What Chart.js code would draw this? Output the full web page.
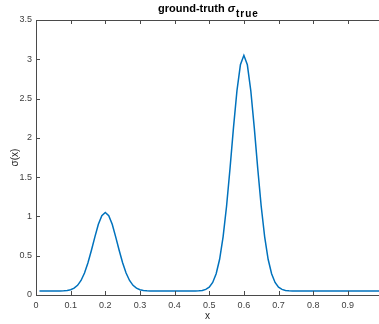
<!DOCTYPE html>
<html>
<head>
<meta charset="utf-8">
<script src="https://cdn.jsdelivr.net/npm/chart.js@4"></script>
<style>
  body { margin: 0; background: #fff; }
  #wrap { position: relative; width: 379px; height: 324px; }
</style>
</head>
<body>
<div id="wrap"><canvas id="chart"></canvas></div>
<script>
// x positions of the samples
const xValues = [0.01,0.02,0.03,0.04,0.05,0.06,0.07,0.08,0.09,0.10,
  0.11,0.12,0.13,0.14,0.15,0.16,0.17,0.18,0.19,0.20,
  0.21,0.22,0.23,0.24,0.25,0.26,0.27,0.28,0.29,0.30,
  0.31,0.32,0.33,0.34,0.35,0.36,0.37,0.38,0.39,0.40,
  0.41,0.42,0.43,0.44,0.45,0.46,0.47,0.48,0.49,0.50,
  0.51,0.52,0.53,0.54,0.55,0.56,0.57,0.58,0.59,0.60,
  0.61,0.62,0.63,0.64,0.65,0.66,0.67,0.68,0.69,0.70,
  0.71,0.72,0.73,0.74,0.75,0.76,0.77,0.78,0.79,0.80,
  0.81,0.82,0.83,0.84,0.85,0.86,0.87,0.88,0.89,0.90,
  0.91,0.92,0.93,0.94,0.95,0.96,0.97,0.98,0.99];

// sigma_true
const sigmaTrue = [0.05,0.05,0.05,0.05,0.05,0.05,0.051,0.053,0.057,0.067,
  0.087,0.123,0.185,0.28,0.41,0.57,0.74,0.90,1.01,1.05,
  1.01,0.90,0.74,0.57,0.41,0.28,0.185,0.123,0.087,0.067,
  0.057,0.053,0.051,0.05,0.05,0.05,0.05,0.05,0.05,0.05,
  0.05,0.05,0.05,0.05,0.05,0.051,0.053,0.058,0.072,0.10,
  0.16,0.27,0.455,0.74,1.13,1.61,2.13,2.60,2.93,3.05,
  2.93,2.60,2.13,1.61,1.13,0.74,0.455,0.27,0.16,0.10,
  0.072,0.058,0.053,0.051,0.05,0.05,0.05,0.05,0.05,0.05,
  0.05,0.05,0.05,0.05,0.05,0.05,0.05,0.05,0.05,0.05,
  0.05,0.05,0.05,0.05,0.05,0.05,0.05,0.05,0.05];

const xTicks = [0, 0.1, 0.2, 0.3, 0.4, 0.5, 0.6, 0.7, 0.8, 0.9];
const yTicks = [0, 0.5, 1, 1.5, 2, 2.5, 3, 3.5];

const axisColor = '#4a4a4a';
const fontFam = '"Liberation Sans", Arial, sans-serif';

// matlab-style box: inward ticks, top border, titles with subscript
const matlabBox = {
  id: 'matlabBox',
  afterDraw(chart) {
    const ctx = chart.ctx;
    const a = chart.chartArea;
    const xs = chart.scales.x, ys = chart.scales.y;
    ctx.save();
    ctx.strokeStyle = axisColor;
    ctx.lineWidth = 1;
    ctx.beginPath();
    ctx.moveTo(a.left, a.top + 0.5);
    ctx.lineTo(a.right, a.top + 0.5);
    xTicks.forEach(v => {
      const px = Math.round(xs.getPixelForValue(v)) + 0.5;
      ctx.moveTo(px, a.bottom); ctx.lineTo(px, a.bottom - 4);
      ctx.moveTo(px, a.top); ctx.lineTo(px, a.top + 4);
    });
    yTicks.forEach(v => {
      const py = Math.round(ys.getPixelForValue(v)) + 0.5;
      ctx.moveTo(a.left, py); ctx.lineTo(a.left + 4, py);
    });
    ctx.stroke();

    // title
    ctx.fillStyle = '#000';
    ctx.textBaseline = 'alphabetic';
    const t1 = 'ground-truth ';
    ctx.font = 'bold 11px ' + fontFam;
    const w1 = ctx.measureText(t1).width;
    ctx.font = 'italic bold 11px ' + fontFam;
    const w2 = ctx.measureText('σ').width + 1;
    ctx.font = 'bold 10px ' + fontFam;
    ctx.letterSpacing = '1px';
    const w3 = ctx.measureText('true').width;
    ctx.letterSpacing = '0px';
    let tx = 208.5 - (w1 + w2 + w3) / 2;
    ctx.textAlign = 'left';
    ctx.font = 'bold 11px ' + fontFam;
    ctx.fillText(t1, tx, 12);
    tx += w1;
    ctx.font = 'italic bold 11px ' + fontFam;
    ctx.fillText('σ', tx, 12);
    tx += w2;
    ctx.font = 'bold 10px ' + fontFam;
    ctx.letterSpacing = '1px';
    ctx.fillText('true', tx, 17);
    ctx.letterSpacing = '0px';

    // axis labels
    ctx.fillStyle = '#262626';
    ctx.font = '10px ' + fontFam;
    ctx.textAlign = 'center';
    ctx.textBaseline = 'middle';
    ctx.fillText('x', (a.left + a.right) / 2, 316);
    ctx.save();
    ctx.translate(15, (a.top + a.bottom) / 2);
    ctx.rotate(-Math.PI / 2);
    ctx.fillText('σ(x)', 0, 0);
    ctx.restore();
    ctx.restore();
  }
};

new Chart(document.getElementById('chart'), {
  type: 'line',
  data: {
    datasets: [{
      data: xValues.map((x, i) => ({ x: x, y: sigmaTrue[i] })),
      borderColor: '#0072BD',
      borderWidth: 1.5,
      pointRadius: 0,
      tension: 0,
      fill: false
    }]
  },
  options: {
    responsive: true,
    maintainAspectRatio: false,
    animation: false,
    layout: { padding: { top: 20, left: 0, right: 0, bottom: 0 } },
    plugins: { legend: { display: false }, tooltip: { enabled: false } },
    scales: {
      x: {
        type: 'linear',
        min: 0,
        max: 0.99,
        afterFit: s => { s.height = 29; },
        grid: { display: false, drawTicks: false },
        border: { display: true, color: axisColor, width: 1 },
        ticks: {
          stepSize: 0.1,
          includeBounds: false,
          padding: 5,
          color: '#404040',
          font: { family: fontFam, size: 9 },
          maxRotation: 0,
          callback: v => String(Math.round(v * 10) / 10)
        }
      },
      y: {
        min: 0,
        max: 3.5,
        afterFit: s => { s.width = 36; },
        grid: { display: false, drawTicks: false },
        border: { display: true, color: axisColor, width: 1 },
        ticks: {
          stepSize: 0.5,
          padding: 4,
          color: '#404040',
          font: { family: fontFam, size: 9 },
          callback: v => String(v)
        }
      }
    }
  },
  plugins: [matlabBox]
});
</script>
</body>
</html>
